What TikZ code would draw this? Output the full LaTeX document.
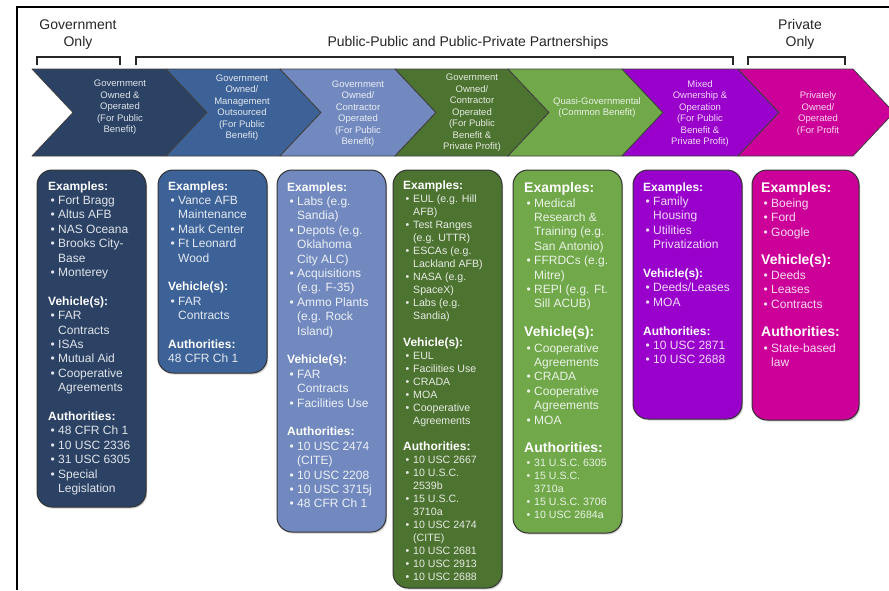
\documentclass[tikz,border=0pt]{standalone}
\usepackage{fontspec}
\setmainfont{Liberation Sans}
\usetikzlibrary{shadows}
\definecolor{cA}{HTML}{2B4265}
\definecolor{cB}{HTML}{3D6298}
\definecolor{cC}{HTML}{7189BE}
\definecolor{cD}{HTML}{4D7331}
\definecolor{cE}{HTML}{70A84A}
\definecolor{cF}{HTML}{9900CC}
\definecolor{cG}{HTML}{CC0099}
\definecolor{ink}{HTML}{262626}
\newcommand\bu{\hspace*{2.5pt}\makebox[7.5pt][l]{\textbullet}}
\newcommand\ct{\hspace*{10pt}}
\newcommand\hd{\fontsize{12}{14}\selectfont\bfseries\color{white}}
\newcommand\Hd{\fontsize{14}{16}\selectfont\bfseries\color{white}}
\newcommand\sm{\fontsize{10.6}{12}\selectfont}
\newcommand\chev[3]{\draw[chevline, fill=#3] (#1,69) -- (#2,69) -- (#2+41,112.5) -- (#2,156) -- (#1,156) -- (#1+41,112.5) -- cycle;}
\tikzset{
  chevline/.style={draw=black!75, line width=0.8pt, line join=round},
  chv/.style={align=center, font=\fontsize{9.5}{11.5}\selectfont, inner sep=0pt},
  hdr/.style={align=center, font=\fontsize{14}{17}\selectfont, text=ink, inner sep=0pt},
  brk/.style={draw=ink, line width=1.4pt},
  card/.style={draw=black!80, line width=1pt, rounded corners=15pt,
     drop shadow={opacity=0.35, shadow xshift=1.2pt, shadow yshift=-1.5pt}},
  ln/.style={anchor=base west, inner sep=0pt, text=itc, font=\fontsize{12}{14}\selectfont},
  lns/.style={ln, font=\fontsize{10.6}{12}\selectfont}
}
\begin{document}
\begin{tikzpicture}[x=1pt,y=-1pt]
\clip (0,0) rectangle (889,590);
\fill[white] (0,0) rectangle (889,590);
% frame
\draw[black, line width=2.6pt] (16,7) -- (889,7);
\draw[black, line width=2pt] (17,6) -- (17,590);
% headers
\node[hdr] (hgov) at (78,34.5) {Government\\Only};
\node[hdr] (hpub) at (468,43) {Public-Public and Public-Private Partnerships};
\node[hdr] (hpri) at (800,34.5) {Private\\Only};
% brackets
\draw[brk] (37,65) -- (37,57) -- (120,57) -- (120,65);
\draw[brk] (136,65) -- (136,57) -- (733,57) -- (733,65);
\draw[brk] (748,65) -- (748,57) -- (845,57) -- (845,65);
% chevrons
\chev{32}{166}{cA}
\chev{166}{280}{cB}
\chev{280}{395}{cC}
\chev{395}{508}{cD}
\chev{508}{622}{cE}
\chev{622}{738}{cF}
\chev{738}{853}{cG}
\node[chv, text=white!85!cA] (t1) at (120,107.5) {Government\\Owned \&\\Operated\\(For Public\\Benefit)};
\node[chv, text=white!85!cB] (t2) at (242,107.5) {Government\\Owned/\\Management\\Outsourced\\(For Public\\Benefit)};
\node[chv, text=white!85!cC] (t3) at (358,113.5) {Government\\Owned/\\Contractor\\Operated\\(For Public\\Benefit)};
\node[chv, text=white!85!cD] (t4) at (472,113) {Government\\Owned/\\Contractor\\Operated\\(For Public\\Benefit \&\\Private Profit)};
\node[chv, text=white!85!cE] (t5) at (597,107.5) {Quasi-Governmental\\(Common Benefit)};
\node[chv, text=white!85!cF] (t6) at (700,113.5) {Mixed\\Ownership \&\\Operation\\(For Public\\Benefit \&\\Private Profit)};
\node[chv, text=white!85!cG] (t7) at (818,113.5) {Privately\\Owned/\\Operated\\(For Profit};
% cards
\draw[card, fill=cA] (37,170) rectangle (146,507);
\draw[card, fill=cB] (158,170) rectangle (267,373);
\draw[card, fill=cC] (277,170) rectangle (386,532);
\draw[card, fill=cD] (393,170) rectangle (502,588);
\draw[card, fill=cE] (513,170) rectangle (622,533);
\draw[card, fill=cF] (633,170) rectangle (742,419);
\draw[card, fill=cG] (752,170) rectangle (859,420);
% card 1
\colorlet{itc}{white!86!cA}
\foreach \yy/\tx [count=\i] in {186/\hd Examples:, 200.4/\bu Fort Bragg, 214.8/\bu Altus AFB,
  229.2/\bu NAS Oceana, 243.6/\bu Brooks City-, 258/\ct Base, 272.4/\bu Monterey,
  301.2/\hd Vehicle(s):, 315.6/\bu FAR, 330/\ct Contracts, 344.4/\bu ISAs, 358.8/\bu Mutual Aid,
  373.2/\bu Cooperative, 387.6/\ct Agreements, 416.4/\hd Authorities:, 430.8/\bu 48 CFR Ch 1,
  445.2/\bu 10 USC 2336, 459.6/\bu 31 USC 6305, 474/\bu Special, 488.4/\ct Legislation}
  \node[ln] (a\i) at (48,\yy+4) {\tx};
% card 2
\colorlet{itc}{white!86!cB}
\foreach \yy/\tx [count=\i] in {186/\hd Examples:, 200.4/\bu Vance AFB, 214.8/\ct Maintenance,
  229.2/\bu Mark Center, 243.6/\bu Ft Leonard, 258/\ct Wood, 286.8/\hd Vehicle(s):,
  301.2/\bu FAR, 315.6/\ct Contracts, 344.4/\hd Authorities:, 358.8/48 CFR Ch 1}
  \node[ln] (b\i) at (168,\yy+4) {\tx};
% card 3
\colorlet{itc}{white!88!cC}
\foreach \yy/\tx [count=\i] in {187/\hd Examples:, 201.4/\bu Labs (e.g., 215.8/\ct Sandia),
  230.2/\bu Depots (e.g., 244.6/\ct Oklahoma, 259/\ct City ALC), 273.4/\bu Acquisitions,
  287.8/\ct (e.g. F-35), 302.2/\bu Ammo Plants, 316.6/\ct (e.g. Rock, 331/\ct Island),
  359.8/\hd Vehicle(s):, 374.2/\bu FAR, 388.6/\ct Contracts, 403/\bu Facilities Use,
  431.8/\hd Authorities:, 446.2/\bu 10 USC 2474, 460.6/\ct (CITE), 475/\bu 10 USC 2208,
  489.4/\bu 10 USC 3715j, 503.8/\bu 48 CFR Ch 1}
  \node[ln] (c\i) at (287,\yy+4) {\tx};
% card 4
\colorlet{itc}{white!86!cD}
\foreach \yy/\tx [count=\i] in {186/\hd Examples:, 199/\bu EUL (e.g. Hill, 212/\ct AFB),
  225.1/\bu Test Ranges, 238.1/\ct (e.g. UTTR), 251.2/\bu ESCAs (e.g., 264.2/\ct Lackland AFB),
  277.2/\bu NASA (e.g., 290.2/\ct SpaceX), 303.3/\bu Labs (e.g., 316.3/\ct Sandia),
  342.4/\hd Vehicle(s):, 355.4/\bu EUL, 368.4/\bu Facilities Use, 381.5/\bu CRADA,
  394.5/\bu MOA, 407.5/\bu Cooperative, 420.5/\ct Agreements, 446.6/\hd Authorities:,
  459.6/\bu 10 USC 2667, 472.7/\bu 10 U.S.C., 485.7/\ct 2539b, 498.7/\bu 15 U.S.C.,
  511.7/\ct 3710a, 524.8/\bu 10 USC 2474, 537.8/\ct (CITE), 550.8/\bu 10 USC 2681,
  563.8/\bu 10 USC 2913, 576.9/\bu 10 USC 2688}
  \node[lns] (d\i) at (403,\yy+3.6) {\tx};
% card 5
\colorlet{itc}{white!86!cE}
\foreach \yy/\tx [count=\i] in {188/\Hd Examples:, 203/\bu Medical, 217.4/\ct Research \&,
  231.8/\ct Training (e.g., 246.2/\ct San Antonio), 260.6/\bu FFRDCs (e.g., 275/\ct Mitre),
  289.4/\bu REPI (e.g. Ft., 303.8/\ct Sill ACUB), 332/\Hd Vehicle(s):, 348/\bu Cooperative,
  362.4/\ct Agreements, 376.8/\bu CRADA, 391.2/\bu Cooperative, 405.6/\ct Agreements,
  420/\bu MOA, 448/\Hd Authorities:, 462/\sm\bu 31 U.S.C. 6305, 475.2/\sm\bu 15 U.S.C.,
  488.4/\sm\ct 3710a, 501.6/\sm\bu 15 U.S.C. 3706, 514.8/\sm\bu 10 USC 2684a}
  \node[ln] (e\i) at (524,\yy+4) {\tx};
% card 6
\colorlet{itc}{white!86!cF}
\foreach \yy/\tx [count=\i] in {187/\hd Examples:, 201.4/\bu Family, 215.8/\ct Housing,
  230.2/\bu Utilities, 244.6/\ct Privatization, 273.4/\hd Vehicle(s):, 287.8/{\bu Deeds/Leases},
  302.2/\bu MOA, 331/\hd Authorities:, 345.4/\bu 10 USC 2871, 359.8/\bu 10 USC 2688}
  \node[ln] (f\i) at (643,\yy+4) {\tx};
% card 7
\colorlet{itc}{white!86!cG}
\foreach \yy/\tx [count=\i] in {188/\Hd Examples:, 203/\bu Boeing, 217.5/\bu Ford, 232/\bu Google,
  260/\Hd Vehicle(s):, 275/\bu Deeds, 289.5/\bu Leases, 304/\bu Contracts,
  332/\Hd Authorities:, 348/\bu State-based, 362/\ct law}
  \node[ln] (g\i) at (761,\yy+4) {\tx};
\end{tikzpicture}
\end{document}
